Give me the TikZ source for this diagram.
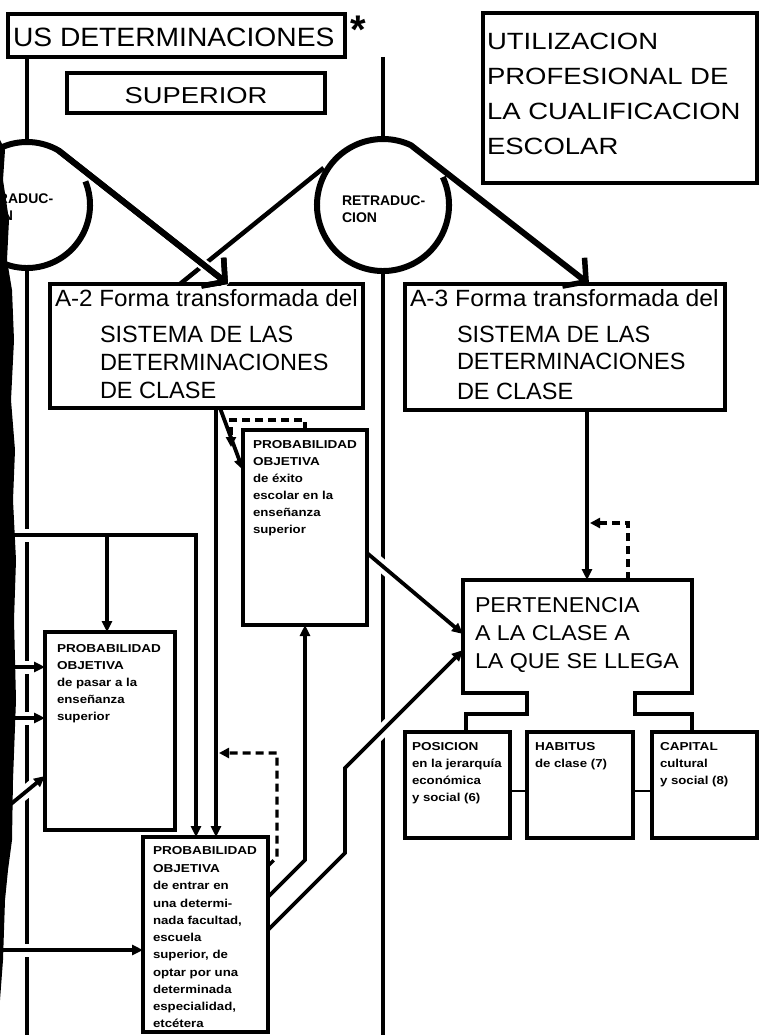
\documentclass[tikz,border=0pt]{standalone}
\usepackage{fontspec}
\usepackage{graphicx}
\setmainfont{Liberation Sans}
\usetikzlibrary{arrows.meta,calc,backgrounds}
\newcommand{\fs}[1]{\fontsize{#1}{#1}\selectfont}
\newcommand{\sx}[2]{\scalebox{#1}[1]{#2}}
\newcommand{\capS}[1]{\fs{11.5}\bfseries\sx{1.18}{#1}}
\newcommand{\lowS}[1]{\fs{11.5}\bfseries\sx{1.15}{#1}}
\newcommand{\bigT}[1]{\fs{23.5}\sx{1.0}{#1}}
\begin{document}
\begin{tikzpicture}[x=1pt,y=-1pt,
  box/.style={draw, line width=4.2pt, inner sep=0pt, outer sep=0pt, anchor=north west},
  sbox/.style={box, line width=3.8pt},
  lbl/.style={anchor=base west, inner sep=0pt, outer sep=0pt},
  ln/.style={line width=3.8pt, line join=miter},
  arr/.style={ln, -{Triangle[length=11pt,width=10pt]}},
  dsh/.style={line width=3.4pt, dash pattern=on 8pt off 5pt},
  darr/.style={dsh, -{Triangle[length=10pt,width=10pt]}},
  big/.style={line width=6pt, line join=round},
  barb/.style={big, -{Straight Barb[length=16pt,width=36pt,line width=5.5pt]}},
  halo/.style={preaction={draw=white, line width=13pt, arrows=-}},
  thin/.style={line width=2.6pt}
]
\useasboundingbox (0,0) rectangle (759,1035);
\clip (0,0) rectangle (759,1035);

% ---------- boxes ----------
\node[box, minimum width=337pt, minimum height=43pt] (tbox) at (8,14) {};
\node[box, minimum width=258pt, minimum height=40pt] (sup) at (67,73) {};
\node[box, minimum width=274pt, minimum height=170pt] (util) at (483,13) {};
\node[box, minimum width=313pt, minimum height=124pt] (a2) at (50,284) {};
\node[box, minimum width=320pt, minimum height=126pt] (a3) at (405,284) {};
\node[sbox, minimum width=124pt, minimum height=195pt] (exito) at (243,430) {};
\node[sbox, minimum width=130pt, minimum height=198pt] (pasar) at (45,632) {};
\node[sbox, minimum width=125pt, minimum height=195pt] (entrar) at (143,837) {};
\node[sbox, minimum width=105pt, minimum height=106pt] (pos) at (405,732) {};
\node[sbox, minimum width=106pt, minimum height=106pt] (hab) at (527,732) {};
\node[sbox, minimum width=105pt, minimum height=106pt] (cap) at (652,732) {};
\node[inner sep=0pt, outer sep=0pt, anchor=north west, minimum width=229pt, minimum height=113pt] (pert) at (463,580) {};

% ---------- circles ----------
\node[circle, minimum size=126pt, inner sep=0pt, outer sep=0pt] (cL) at (27,205) {};
\node[circle, minimum size=132pt, inner sep=0pt, outer sep=0pt] (cM) at (383,205) {};

% PERTENENCIA outline with stepped connectors
\draw[line width=4.2pt, line join=miter] (pos.north -| 466,0) -- (466,714) -- (527,714) -- (527,693) -- (pert.south west) -- (pert.north west) -- (pert.north east) -- (pert.south east) -- (635,693) -- (635,714) -- (692,714) -- (cap.north -| 692,0);

% circles with loop arrows
\draw[line width=4.5pt] ($(cM.center)+(148:70pt)$) -- (a2.north -| 180,0);
\draw[barb, preaction={draw=white, line width=11pt, arrows=-, line cap=butt}] (cL.60) -- (a2.north -| 228,0);
\draw[barb] (cL.22) arc[start angle=22, end angle=-300, radius=63pt] -- (a2.north -| 228,0);
\draw[barb] (cM.25) arc[start angle=25, end angle=-295, radius=66pt] -- (a3.north -| 589,0);

% ---------- texts ----------
\node[lbl] (tT) at (13,47) {\fs{26.5}\sx{1.065}{US DETERMINACIONES}};
\node[anchor=base, inner sep=0pt] (ast) at (358,44) {\fs{40}\bfseries *};
\node[anchor=base, inner sep=0pt] (tS) at (196,104) {\fs{23}\sx{1.19}{SUPERIOR}};

\node[lbl] (u1) at (487,50) {\fs{23.5}\sx{1.17}{UTILIZACION}};
\node[lbl] (u2) at (487,85) {\fs{23.5}\sx{1.17}{PROFESIONAL DE}};
\node[lbl] (u3) at (487,120) {\fs{23.5}\sx{1.17}{LA CUALIFICACION}};
\node[lbl] (u4) at (487,155) {\fs{23.5}\sx{1.17}{ESCOLAR}};

\node[lbl] (cMt1) at (342,205) {\fs{14}\bfseries RETRADUC-};
\node[lbl] (cMt2) at (342,222) {\fs{14}\bfseries CION};
\node[lbl] (cLt1) at (-30,203) {\fs{14}\bfseries RETRADUC-};
\node[lbl] (cLt2) at (-22,220) {\fs{14}\bfseries CION};

\node[lbl] (a2t1) at (55,306) {\fs{23.5}\sx{1.03}{A-2 Forma transformada del}};
\node[lbl] (a2t2) at (100,342) {\bigT{SISTEMA DE LAS}};
\node[lbl] (a2t3) at (100,370) {\bigT{DETERMINACIONES}};
\node[lbl] (a2t4) at (100,398) {\bigT{DE CLASE}};

\node[lbl] (a3t1) at (410,306) {\fs{23.5}\sx{1.05}{A-3 Forma transformada del}};
\node[lbl] (a3t2) at (457,342) {\bigT{SISTEMA DE LAS}};
\node[lbl] (a3t3) at (457,369) {\bigT{DETERMINACIONES}};
\node[lbl] (a3t4) at (457,399) {\bigT{DE CLASE}};

\node[lbl] (pt1) at (475,612) {\fs{21.5}\sx{1.08}{PERTENENCIA}};
\node[lbl] (pt2) at (475,640) {\fs{21.5}\sx{1.08}{A LA CLASE A}};
\node[lbl] (pt3) at (475,668) {\fs{21.5}\sx{1.08}{LA QUE SE LLEGA}};

\node[lbl] (e1) at (253,448) {\capS{PROBABILIDAD}};
\node[lbl] (e2) at (253,465) {\capS{OBJETIVA}};
\node[lbl] (e3) at (253,482) {\lowS{de éxito}};
\node[lbl] (e4) at (253,499) {\lowS{escolar en la}};
\node[lbl] (e5) at (253,516) {\lowS{enseñanza}};
\node[lbl] (e6) at (253,533) {\lowS{superior}};

\node[lbl] (p1) at (57,652) {\capS{PROBABILIDAD}};
\node[lbl] (p2) at (57,669) {\capS{OBJETIVA}};
\node[lbl] (p3) at (57,686) {\lowS{de pasar a la}};
\node[lbl] (p4) at (57,703) {\lowS{enseñanza}};
\node[lbl] (p5) at (57,720) {\lowS{superior}};

\node[lbl] (n1) at (153,854) {\capS{PROBABILIDAD}};
\node[lbl] (n2) at (153,872) {\capS{OBJETIVA}};
\node[lbl] (n3) at (153,889) {\lowS{de entrar en}};
\node[lbl] (n4) at (153,907) {\lowS{una determi-}};
\node[lbl] (n5) at (153,924) {\lowS{nada facultad,}};
\node[lbl] (n6) at (153,941) {\lowS{escuela}};
\node[lbl] (n7) at (153,958) {\lowS{superior, de}};
\node[lbl] (n8) at (153,976) {\lowS{optar por una}};
\node[lbl] (n9) at (153,993) {\lowS{determinada}};
\node[lbl] (n10) at (153,1010) {\lowS{especialidad,}};
\node[lbl] (n11) at (153,1027) {\lowS{etcétera}};

\node[lbl] (s1) at (412,750) {\capS{POSICION}};
\node[lbl] (s2) at (412,767) {\lowS{en la jerarquía}};
\node[lbl] (s3) at (412,784) {\lowS{económica}};
\node[lbl] (s4) at (412,801) {\lowS{y social (6)}};

\node[lbl] (h1) at (535,750) {\capS{HABITUS}};
\node[lbl] (h2) at (535,767) {\lowS{de clase (7)}};

\node[lbl] (k1) at (660,750) {\capS{CAPITAL}};
\node[lbl] (k2) at (660,767) {\lowS{cultural}};
\node[lbl] (k3) at (660,784) {\lowS{y social (8)}};

% ---------- connectors (background) ----------
\begin{scope}[on background layer]
  % long vertical lines
  \draw[ln] (tbox.south -| cL.center) -- (cL.north);
  \draw[ln] (cL.south) -- (cL.south |- 0,1040);
  \draw[ln] (tbox.south -| cM.center) -- (cM.north);
  \draw[ln] (cM.south) -- (cM.south |- 0,1040);
  % crossing lines with gaps
  \draw[arr, halo] (0,535) -- (196,535) -- (entrar.north -| 196,0);
  \draw[arr, halo] (0,667) -- (pasar.west |- 0,667);
  \draw[arr, halo] (0,718) -- (pasar.west |- 0,718);
  \draw[arr, halo] (0,813) -- (pasar.west |- 0,776);
  \draw[arr, halo] (0,950) -- (entrar.west |- 0,950);
  \draw[arr, halo] (exito.east |- 0,553) -- (pert.west |- 0,634);
  \draw[arr, halo] (entrar.east |- 0,930) -- (345,853) -- (345,768) -- (pert.west |- 0,650);
  % other connectors
  \draw[arr] (107,535) -- (pasar.north -| 107,0);
  \draw[arr] (a2.south -| 216,0) -- (entrar.north -| 216,0);
  \draw[arr] (a2.south -| 220,0) -- (exito.west |- 0,470);
  \draw[darr] (exito.north -| 305,0) -- (305,420) -- (231,420) -- (231,447);
  \draw[arr] (entrar.east |- 0,897) -- (305,860) -- (exito.south -| 305,0);
  \draw[darr] (entrar.east |- 0,866) -- (277,857) -- (277,753) -- (219,753);
  \draw[arr] (a3.south -| 587,0) -- (pert.north -| 587,0);
  \draw[darr] (pert.north -| 628,0) -- (628,523) -- (590,523);
  \draw[thin] (pos.east |- 0,791) -- (hab.west |- 0,791);
  \draw[thin] (hab.east |- 0,791) -- (cap.west |- 0,791);
  % scanned dark margin
  \fill[black] (0,140) -- (5,150) -- (3,180) -- (9,220) -- (7,260) -- (12,290) -- (14,340) -- (11,400) -- (15,450) -- (13,500) -- (16,560) -- (14,620) -- (16,700) -- (13,780) -- (12,840) -- (8,870) -- (5,900) -- (3,960) -- (0,1000) -- cycle;
\end{scope}
\end{tikzpicture}
\end{document}
